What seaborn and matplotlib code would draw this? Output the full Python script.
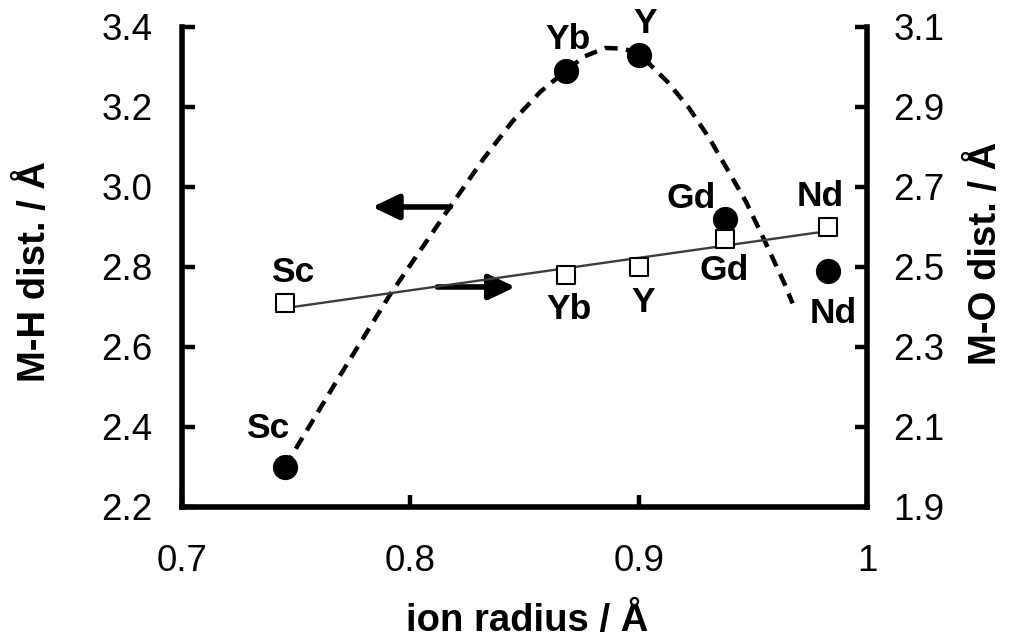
import matplotlib
matplotlib.use("Agg")
import matplotlib.pyplot as plt
import seaborn as sns

# M-H and M-O distances versus ionic radius of the rare-earth cation
elements = ["Sc", "Yb", "Y", "Gd", "Nd"]
ion_radius = [0.745, 0.868, 0.900, 0.938, 0.983]
mh_dist = [2.30, 3.29, 3.33, 2.92, 2.79]
mo_dist = [2.41, 2.48, 2.50, 2.57, 2.60]

# guide-for-the-eye curve through the M-H points
guide_radius = [0.745, 0.768, 0.791, 0.8175, 0.8322, 0.8446, 0.857, 0.8675,
                0.876, 0.8855, 0.893, 0.900, 0.9126, 0.9221, 0.9309, 0.939,
                0.947, 0.955, 0.9638, 0.9674]
guide_mh = [2.30, 2.5175, 2.73, 2.951, 3.0717, 3.1633, 3.2383, 3.2875,
            3.326, 3.3475, 3.346, 3.334, 3.263, 3.197, 3.122, 3.0425,
            2.963, 2.8675, 2.759, 2.709]

x_ticks = [0.7, 0.8, 0.9, 1.0]
x_tick_labels = ["0.7", "0.8", "0.9", "1"]
mh_ticks = [2.2, 2.4, 2.6, 2.8, 3.0, 3.2, 3.4]
mh_tick_labels = ["2.2", "2.4", "2.6", "2.8", "3.0", "3.2", "3.4"]
mo_ticks = [1.9, 2.1, 2.3, 2.5, 2.7, 2.9, 3.1]
mo_tick_labels = ["1.9", "2.1", "2.3", "2.5", "2.7", "2.9", "3.1"]

# arrows pointing each data set to its axis
arrow_mh = {"tail": (0.8175, 2.95), "head": (0.7833, 2.95)}
arrow_mo = {"tail": (0.8118, 2.75), "head": (0.846, 2.75)}

sns.set_theme(style="white")
plt.rcParams["font.family"] = ["Liberation Sans", "DejaVu Sans"]
plt.rcParams["text.color"] = "black"
plt.rcParams["axes.labelcolor"] = "black"

fig = plt.figure(figsize=(10.18, 6.39), dpi=100)
ax = fig.add_axes([0.1788, 0.2066, 0.6729, 0.7512])
ax2 = ax.twinx()

# M-H (left axis): dashed guide and filled circles
sns.lineplot(x=guide_radius, y=guide_mh, ax=ax, color="black", lw=3.2,
             linestyle=(0, (2.9, 1.9)), sort=False, zorder=2)
sns.scatterplot(x=ion_radius, y=mh_dist, ax=ax, color="black", s=330,
                marker="o", edgecolor="black", linewidth=0, zorder=3)

# M-O (right axis): linear fit and open squares
sns.regplot(x=ion_radius, y=mo_dist, ax=ax2, scatter=False, ci=None,
            truncate=True, line_kws=dict(color="#3c3c3c", lw=1.7, zorder=2))
sns.scatterplot(x=ion_radius, y=mo_dist, ax=ax2, marker="s", s=160,
                facecolor="white", edgecolor="black", linewidth=1.5, zorder=3)

arrow_kw = dict(arrowstyle="-|>,head_length=0.8,head_width=0.38",
                mutation_scale=20, lw=4, color="black",
                shrinkA=0, shrinkB=0)
ax.annotate("", xy=arrow_mh["head"], xytext=arrow_mh["tail"],
            arrowprops=arrow_kw)
ax.annotate("", xy=arrow_mo["head"], xytext=arrow_mo["tail"],
            arrowprops=arrow_kw)

# element labels (pixel offsets from each marker)
mh_offsets = {"Sc": (-17, 38), "Yb": (2, 31), "Y": (7, 31),
              "Gd": (-34, 20), "Nd": (5, -43)}
mo_offsets = {"Sc": (8, 30), "Yb": (3, -35), "Y": (5, -36),
              "Gd": (-1, -32), "Nd": (-8, 30)}
label_kw = dict(textcoords="offset pixels", ha="center", va="center",
                fontsize=25.5, fontweight="bold", color="black")
for el, xr, yv in zip(elements, ion_radius, mh_dist):
    ax.annotate(el, (xr, yv), xytext=mh_offsets[el], **label_kw)
for el, xr, yv in zip(elements, ion_radius, mo_dist):
    ax2.annotate(el, (xr, yv), xytext=mo_offsets[el], **label_kw)

ax.set_xlim(0.7, 1.0)
ax.set_ylim(2.2, 3.4)
ax2.set_ylim(1.9, 3.1)

ax.set_xticks(x_ticks, x_tick_labels)
ax.set_yticks(mh_ticks, mh_tick_labels)
ax2.set_yticks(mo_ticks, mo_tick_labels)

tick_kw = dict(direction="in", length=9, width=3.2, color="black",
               labelsize=26.5, labelcolor="black")
ax.tick_params(axis="x", pad=27, bottom=True, **tick_kw)
ax.tick_params(axis="y", pad=21, left=True, **tick_kw)
ax2.tick_params(axis="y", pad=19, right=True, **tick_kw)

for a in (ax, ax2):
    for side in a.spines.values():
        side.set_linewidth(4)
        side.set_color("black")
        side.set_visible(False)
ax.spines["left"].set_visible(True)
ax.spines["bottom"].set_visible(True)
ax2.spines["right"].set_visible(True)
ax.grid(False)
ax2.grid(False)

label_font = dict(fontsize=27.5, fontweight="bold", color="black")
ax.set_xlabel("ion radius / Å", **label_font)
ax.set_ylabel("M-H dist. / Å", **label_font)
ax2.set_ylabel("M-O dist. / Å", **label_font)
ax.xaxis.set_label_coords(0.504, -0.2)
ax.yaxis.set_label_coords(-0.1883, 0.49)
ax2.yaxis.set_label_coords(1.1474, 0.529)

fig.savefig("out.png", dpi=100, facecolor="white")
